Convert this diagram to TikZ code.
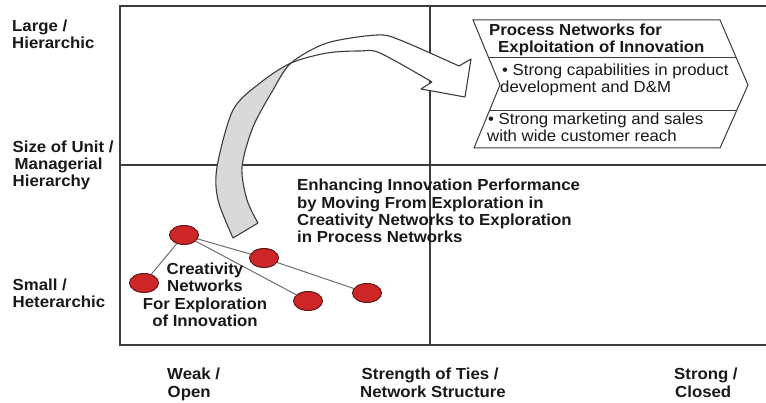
\documentclass[tikz,border=0pt]{standalone}
\usepackage{fontspec}
\setmainfont{Liberation Sans}[FakeStretch=1.05]
\usetikzlibrary{shapes.geometric}
\definecolor{netred}{RGB}{206,38,38}
\definecolor{netborder}{RGB}{95,22,22}
\definecolor{arrowgray}{RGB}{217,217,217}
\definecolor{linegray}{RGB}{60,60,60}
\definecolor{edgegray}{RGB}{110,110,110}
\begin{document}
\begin{tikzpicture}[x=1pt,y=-1pt,
  bt/.style={anchor=base west, inner sep=0pt, text=black!90, font=\fontsize{16}{17}\selectfont\bfseries},
  btc/.style={bt, anchor=base},
  rt/.style={anchor=base west, inner sep=0pt, text=black!90, font=\fontsize{16}{17}\selectfont},
  frame/.style={draw=linegray, line width=1.2pt},
  arrowline/.style={draw=linegray, line width=1.1pt, line join=round},
  chev/.style={draw=linegray, line width=1pt},
  netnode/.style={ellipse, draw=netborder, line width=1pt, fill=netred, minimum width=29pt, minimum height=19pt, inner sep=0pt},
  netedge/.style={draw=edgegray, line width=1pt}]
\useasboundingbox (0,0) rectangle (766,403);
\fill[white] (0,0) rectangle (766,403);

% frame
\draw[frame] (768,6) -- (120,6) -- (120,345) -- (768,345);
\draw[frame] (120,165) -- (768,165);
\draw[frame] (430,6) -- (430,345);

% curved arrow
\fill[arrowgray] plot[smooth] coordinates {(233,238) (218,200) (217,167) (233,110) (260,83) (291,63)}
  -- plot[smooth] coordinates {(291,63) (273,90) (253,127) (242,167) (247,200) (258,223)} -- cycle;
\fill[white] plot[smooth] coordinates {(291,63) (327,43) (377,35) (400,40) (459,66)}
  -- (471,59) -- (465,97) -- (421,89) -- (432,82)
  -- plot[smooth] coordinates {(432,82) (380,53) (360,51) (327,53) (291,63)} -- cycle;
\draw[arrowline] plot[smooth] coordinates {(233,238) (218,200) (217,167) (233,110) (260,83) (291,63) (327,53) (360,51) (380,53) (432,82)};
\draw[arrowline] plot[smooth] coordinates {(258,223) (247,200) (242,167) (253,127) (273,90) (291,63) (327,43) (377,35) (400,40) (459,66)};
\draw[arrowline] (233,238) -- (258,223);
\draw[arrowline] (459,66) -- (471,59) -- (465,97) -- (421,89) -- (432,82);

% chevron
\draw[chev, fill=white] (473,20) -- (720,20) -- (748,85) -- (720,148) -- (474,148) -- (500,85) -- cycle;
\draw[chev] (488.6,57.5) -- (736.2,57.5);
\draw[chev] (489.3,111) -- (736.4,111);
\node[bt] (t1) at (489,35.5) {Process Networks for};
\node[bt] (t2) at (498,52.5) {Exploitation of Innovation};
\node[rt] (p1) at (502,75.5) {• Strong capabilities in product};
\node[rt] (p2) at (500,92.5) {development and D\&M};
\node[rt] (q1) at (488,125) {• Strong marketing and sales};
\node[rt] (q2) at (487,141.5) {with wide customer reach};

% network
\node[netnode] (n1) at (184,235) {};
\node[netnode] (n2) at (144,283) {};
\node[netnode] (n3) at (264,258) {};
\node[netnode] (n4) at (308,301) {};
\node[netnode] (n5) at (367,293) {};
\draw[netedge] (n1) -- (n2);
\draw[netedge] (n1) -- (n3);
\draw[netedge] (n1) -- (n4);
\draw[netedge] (n3) -- (n5);

\node[btc] (c1) at (205,274.5) {Creativity};
\node[btc] (c2) at (205,291.8) {Networks};
\node[btc] (c3) at (205,309.2) {For Exploration};
\node[btc] (c4) at (205,326.5) {of Innovation};

% enhancing text
\node[bt] (e1) at (297,190.8) {Enhancing Innovation Performance};
\node[bt] (e2) at (297,208.2) {by Moving From Exploration in};
\node[bt] (e3) at (297,225.6) {Creativity Networks to Exploration};
\node[bt] (e4) at (297,243) {in Process Networks};

% axis labels
\node[bt] (l1a) at (12,32) {Large /};
\node[bt] (l1b) at (12,49) {Hierarchic};
\node[bt] (l2a) at (12.5,153) {Size of Unit /};
\node[bt] (l2b) at (14.5,170) {Managerial};
\node[bt] (l2c) at (12.5,187) {Hierarchy};
\node[bt] (l3a) at (12.5,291) {Small /};
\node[bt] (l3b) at (12.5,307.5) {Heterarchic};
\node[bt] (b1a) at (167,380) {Weak /};
\node[bt] (b1b) at (167.5,397.5) {Open};
\node[bt] (b2a) at (361.5,380) {Strength of Ties /};
\node[bt] (b2b) at (360,397.5) {Network Structure};
\node[bt] (b3a) at (674,380) {Strong /};
\node[bt] (b3b) at (675,397.5) {Closed};
\end{tikzpicture}
\end{document}
